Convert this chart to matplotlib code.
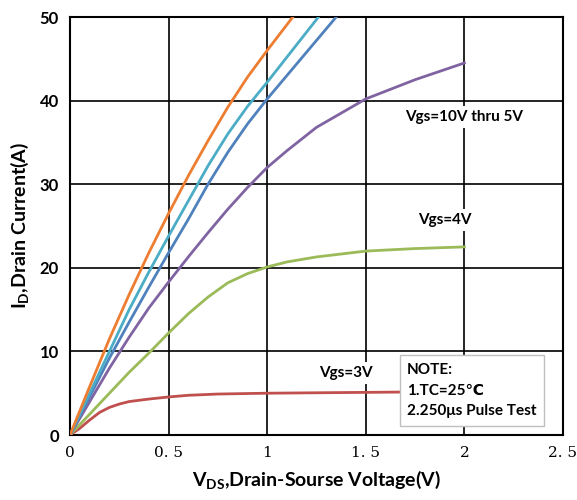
import matplotlib
matplotlib.use("Agg")
import matplotlib.pyplot as plt

# (Vds in V, Id in A)
x_orange = [0, 0.1, 0.2, 0.3, 0.4, 0.5, 0.6, 0.7, 0.8, 0.9, 1.0, 1.13]
y_orange = [0, 5.8, 11.5, 16.8, 21.8, 26.5, 31, 35.2, 39.2, 42.8, 46, 50]

x_cyan = [0, 0.1, 0.2, 0.3, 0.4, 0.5, 0.6, 0.7, 0.8, 0.9, 1.0, 1.1, 1.26]
y_cyan = [0, 5, 10, 15, 19.5, 23.8, 28, 32.2, 36, 39.3, 42.2, 45.2, 50]

x_blue = [0, 0.1, 0.2, 0.3, 0.4, 0.5, 0.6, 0.7, 0.8, 0.9, 1.0, 1.1, 1.2, 1.35]
y_blue = [0, 4.6, 9.2, 13.5, 17.7, 21.8, 25.8, 30, 33.8, 37.2, 40.2, 43, 45.8, 50]

x_purple = [0, 0.1, 0.2, 0.3, 0.4, 0.5, 0.6, 0.7, 0.8, 0.9, 1.0, 1.1, 1.25,
            1.5, 1.75, 2.0]
y_purple = [0, 4, 8, 11.7, 15.2, 18.3, 21.3, 24.2, 27, 29.6, 32, 34, 36.8,
            40.2, 42.5, 44.5]

x_4v = [0, 0.1, 0.2, 0.3, 0.4, 0.5, 0.6, 0.7, 0.8, 0.9, 1.0, 1.1, 1.25,
        1.5, 1.75, 2.0]
y_4v = [0, 2.5, 5, 7.5, 9.8, 12.2, 14.5, 16.5, 18.2, 19.3, 20.1, 20.7, 21.3,
        22, 22.3, 22.5]

x_3v = [0, 0.05, 0.1, 0.15, 0.2, 0.25, 0.3, 0.4, 0.5, 0.6, 0.75, 1.0, 1.5, 2.0]
y_3v = [0, 0.8, 1.8, 2.7, 3.3, 3.7, 4.0, 4.3, 4.55, 4.75, 4.9, 5.0, 5.1, 5.2]

xticks = [0, 0.5, 1, 1.5, 2, 2.5]
xtick_labels = ["0", "0. 5", "1", "1. 5", "2", "2. 5"]
yticks = [0, 10, 20, 30, 40, 50]

sans = ["Lato", "DejaVu Sans"]

fig = plt.figure(figsize=(5.77, 5.0), dpi=100)
ax = fig.add_axes([0.1213, 0.13, 0.8544, 0.836])

# curves
lw = 2.0
ax.plot(x_3v, y_3v, color="#C0504D", lw=lw, zorder=3)
ax.plot(x_4v, y_4v, color="#9BBB59", lw=lw, zorder=3)
ax.plot(x_purple, y_purple, color="#8064A2", lw=lw, zorder=3)
ax.plot(x_blue, y_blue, color="#4F81BD", lw=lw, zorder=3)
ax.plot(x_cyan, y_cyan, color="#4BACC6", lw=lw, zorder=3)
ax.plot(x_orange, y_orange, color="#ED7D31", lw=lw, zorder=3)

ax.set_xlim(0, 2.5)
ax.set_ylim(0, 50)
ax.set_xticks(xticks)
ax.set_xticklabels(xtick_labels, family=["DejaVu Serif"], fontsize=11)
ax.set_yticks(yticks)
ax.set_yticklabels([str(v) for v in yticks], family=sans, fontsize=12, fontweight="bold")
ax.tick_params(length=0, pad=8)
ax.grid(True, color="black", lw=1.2, zorder=1)
ax.set_axisbelow(True)
for s in ax.spines.values():
    s.set_linewidth(1.5)

ax.set_xlabel("V$_\\mathregular{DS}$,Drain-Sourse Voltage(V)", family=sans,
              fontsize=14, fontweight="bold", labelpad=6)
ax.set_ylabel("I$_\\mathregular{D}$,Drain Current(A)", family=sans,
              fontsize=14, fontweight="bold", labelpad=6)

# curve labels
box = dict(facecolor="white", edgecolor="none", pad=3)
ax.text(2.0, 38, "Vgs=10V thru 5V", ha="center", va="center", family=sans,
        fontsize=11, fontweight="bold", bbox=box, zorder=4)
ax.text(1.9, 25.7, "Vgs=4V", ha="center", va="center", family=sans,
        fontsize=11, fontweight="bold", bbox=box, zorder=4)
ax.text(1.4, 7.4, "Vgs=3V", ha="center", va="center", family=sans,
        fontsize=11, fontweight="bold", bbox=box, zorder=4)

# note box
note = "NOTE:\n1.TC=25\u2103\n2.250\u03bcs Pulse Test"
ax.text(1.71, 5.3, note, ha="left", va="center", linespacing=1.6,
        family=["Lato", "DejaVu Sans", "Noto Sans CJK SC"], fontsize=11, fontweight="bold",
        bbox=dict(facecolor="white", edgecolor="#BFBFBF", boxstyle="square,pad=0.5"),
        zorder=5)

fig.savefig("out.png", dpi=100)
